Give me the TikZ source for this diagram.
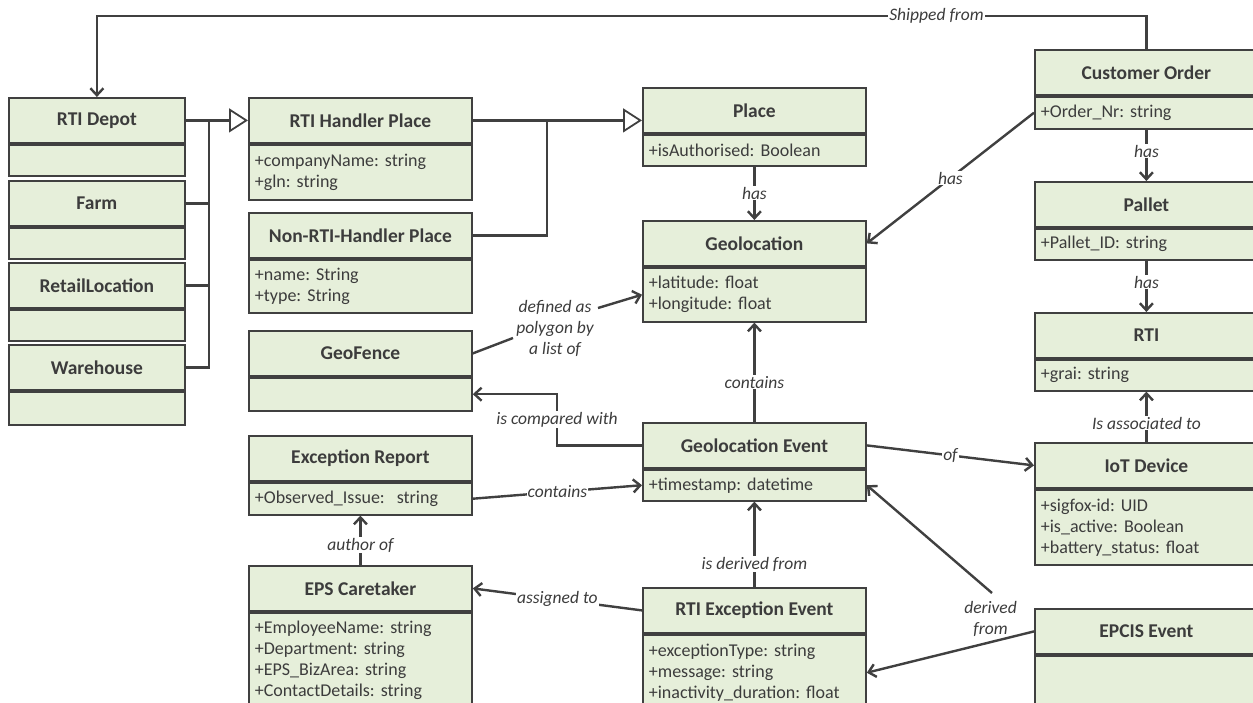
\documentclass[tikz,border=0pt]{standalone}
\usepackage{fontspec}
\setmainfont{Carlito}
\usetikzlibrary{arrows.meta,calc}
\definecolor{bg}{HTML}{E6EFDA}
\definecolor{bd}{HTML}{404040}
\definecolor{tx}{HTML}{3C3C3C}
\newcommand\ttlfont{\fontsize{19.5}{23}\selectfont\bfseries}
\newcommand\attfont{\fontsize{18}{21}\selectfont}
\newcommand\lblfont{\fontsize{17.5}{21}\selectfont\itshape}
\frenchspacing
\tikzset{
  ttl/.style={draw=bd, fill=bg, line width=1.8pt, minimum height=45pt, inner sep=0pt, anchor=north west, font=\ttlfont, text=tx},
  att/.style={draw=bd, fill=bg, line width=1.8pt, inner xsep=6pt, inner ysep=0pt, anchor=north west, align=left, font=\attfont, text=tx},
  conn/.style={draw=bd, line width=2.4pt},
  asc/.style={conn, -{Straight Barb[length=7pt,width=13pt]}},
  gen/.style={conn, -{Triangle[length=19pt,width=24pt,fill=white,line width=1.8pt]}},
  lbl/.style={font=\lblfont, text=tx, fill=white, inner sep=1pt},
}
\begin{document}
\begin{tikzpicture}[x=1pt,y=-1pt]
\useasboundingbox (0,0) rectangle (1253,702);
\fill[white] (0,0) rectangle (1253,702);

% left column
\node[ttl, minimum width=176pt] (rd) at (8,97) {RTI Depot};
\node[att, text width=164pt, minimum height=31pt] (rd-a) at (rd.south west) {};
\node[ttl, minimum width=176pt] (fm) at (8,180) {Farm};
\node[att, text width=164pt, minimum height=31pt] (fm-a) at (fm.south west) {};
\node[ttl, minimum width=176pt] (rl) at (8,262) {RetailLocation};
\node[att, text width=164pt, minimum height=31pt] (rl-a) at (rl.south west) {};
\node[ttl, minimum width=176pt] (wh) at (8,344) {Warehouse};
\node[att, text width=164pt, minimum height=33pt] (wh-a) at (wh.south west) {};

% second column
\node[ttl, minimum width=223pt] (rhp) at (248,97) {RTI Handler Place};
\node[att, text width=211pt, minimum height=55pt] (rhp-a) at (rhp.south west) {+companyName: string\\+gln: string};
\node[ttl, minimum width=223pt] (nrhp) at (248,212) {Non-RTI-Handler Place};
\node[att, text width=211pt, minimum height=53pt] (nrhp-a) at (nrhp.south west) {+name: String\\+type: String};
\node[ttl, minimum width=223pt] (gf) at (248,330) {GeoFence};
\node[att, text width=211pt, minimum height=33pt] (gf-a) at (gf.south west) {};
\node[ttl, minimum width=223pt] (er) at (248,435) {Exception Report};
\node[att, text width=211pt, minimum height=32pt] (er-a) at (er.south west) {+Observed\_Issue:\ \ string};
\node[ttl, minimum width=223pt] (eps) at (248,565) {EPS Caretaker};
\node[att, text width=211pt, minimum height=96pt] (eps-a) at (eps.south west) {+EmployeeName: string\\+Department: string\\+EPS\_BizArea: string\\+ContactDetails: string};

% centre column
\node[ttl, minimum width=223pt] (pl) at (642,87) {Place};
\node[att, text width=211pt, minimum height=31pt] (pl-a) at (pl.south west) {+isAuthorised: Boolean};
\node[ttl, minimum width=223pt] (geo) at (642,220) {Geolocation};
\node[att, text width=211pt, minimum height=54pt] (geo-a) at (geo.south west) {+latitude: float\\+longitude: float};
\node[ttl, minimum width=223pt] (ge) at (642,422) {Geolocation Event};
\node[att, text width=211pt, minimum height=31pt] (ge-a) at (ge.south west) {+timestamp: datetime};
\node[ttl, minimum width=223pt] (rex) at (642,587) {RTI Exception Event};
\node[att, text width=211pt, minimum height=76pt] (rex-a) at (rex.south west) {+exceptionType: string\\+message: string\\+inactivity\_duration: float};

% right column
\node[ttl, minimum width=223pt] (co) at (1034,49) {Customer Order};
\node[att, text width=211pt, minimum height=32pt] (co-a) at (co.south west) {+Order\_Nr: string};
\node[ttl, minimum width=223pt] (pal) at (1034,181) {Pallet};
\node[att, text width=211pt, minimum height=31pt] (pal-a) at (pal.south west) {+Pallet\_ID: string};
\node[ttl, minimum width=223pt] (rti) at (1034,312) {RTI};
\node[att, text width=211pt, minimum height=31pt] (rti-a) at (rti.south west) {+grai: string};
\node[ttl, minimum width=223pt] (iot) at (1034,442) {IoT Device};
\node[att, text width=211pt, minimum height=75pt] (iot-a) at (iot.south west) {+sigfox-id: UID\\+is\_active: Boolean\\+battery\_status: float};
\node[ttl, minimum width=223pt] (epc) at (1034,608) {EPCIS Event};
\node[att, text width=211pt, minimum height=80pt] (epc-a) at (epc.south west) {};

% generalisations
\coordinate (j1) at ($(rd.east)+(23,0)$);
\draw[conn] (rd.east) -- (j1);
\draw[conn] (fm.east) -| (j1);
\draw[conn] (rl.east) -| (j1);
\draw[conn] (wh.east) -| (j1);
\draw[gen] (j1) -- (rhp.west);
\coordinate (j2) at ($(rhp.east)+(74,0)$);
\draw[conn] (rhp.east) -- (j2);
\draw[conn] (nrhp.east) -| (j2);
\draw[gen] (j2) -- (j2 -| pl.west);

% associations
\draw[asc] (pl-a.south) -- node[lbl]{has} (geo.north);
\draw[asc] (ge.north) -- node[lbl, pos=0.4]{contains} (geo-a.south);
\draw[asc] (rex.north) -- node[lbl, pos=0.27]{is derived from} (ge-a.south);
\draw[asc] (co-a.south) -- node[lbl, pos=0.42]{has} (pal.north);
\draw[asc] (pal-a.south) -- node[lbl, pos=0.42]{has} (rti.north);
\draw[asc] (iot.north) -- node[lbl, pos=0.37]{Is associated to} (rti-a.south);
\draw[asc] (ge.east) -- node[lbl]{of} (iot.west);
\draw[asc] (co-a.west) -- node[lbl]{has} (geo.east);

\coordinate (sh) at (0,16);
\draw[asc] (co.north) |- node[lbl, pos=0.6]{Shipped from} (sh -| rd.north) -- (rd.north);

\node[lbl, fill=none, align=center] (dfl) at (555,328) {defined as\\polygon by\\a list of};
\coordinate (d1) at (513,338);
\coordinate (d2) at (598,308);
\draw[conn] (gf.east) -- (d1);
\draw[asc] (d2) -- (geo-a.west);

\coordinate (c1) at (557,0);
\draw[asc] (ge.west) -| node[lbl, pos=0.75]{is compared with} (c1 |- gf-a.east) -- (gf-a.east);

\draw[asc] (er-a.east) -- node[lbl]{contains} (ge-a.west);
\draw[asc] (eps.north) -- node[lbl, pos=0.4]{author of} (er-a.south);
\draw[asc] (rex.west) -- node[lbl]{assigned to} (eps.east);
\draw[asc] (epc.west) -- node[lbl, fill=none, pos=0.26, anchor=south, align=center, yshift=3pt]{derived\\from} (rex-a.east);
\coordinate (d3) at (992,593);
\draw[asc] (d3) -- (ge-a.east);
\end{tikzpicture}
\end{document}
